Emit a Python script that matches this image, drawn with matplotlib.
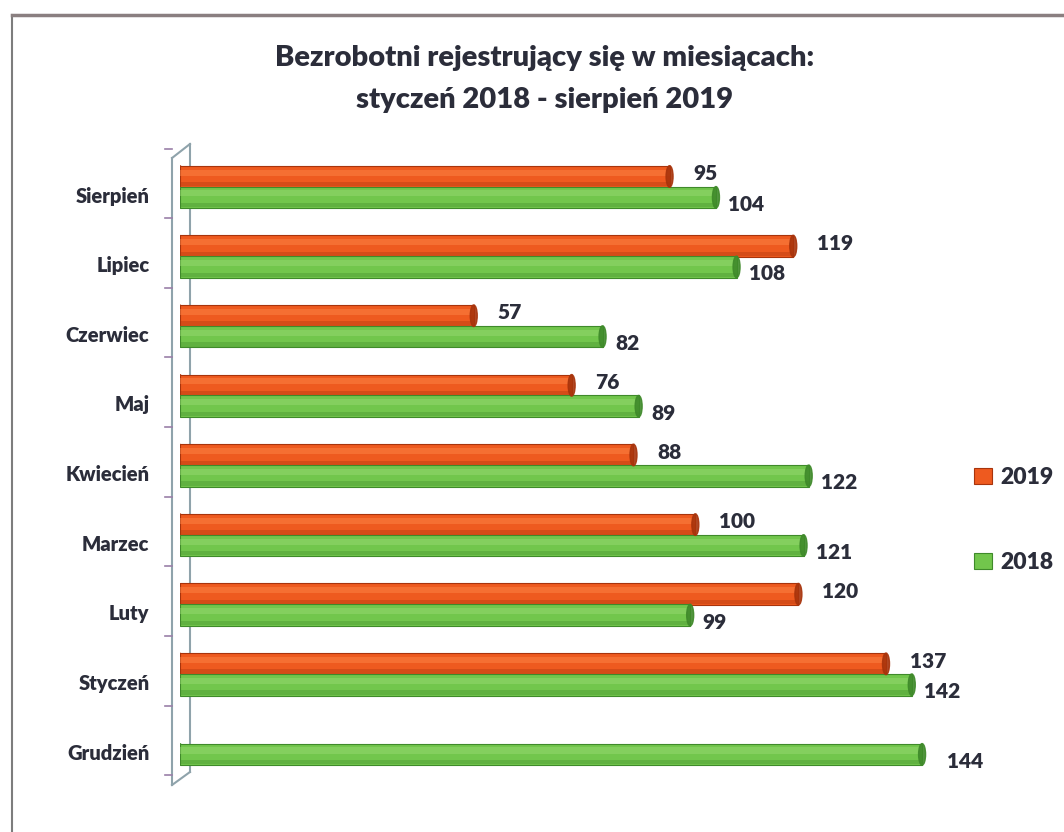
import matplotlib
matplotlib.use("Agg")
import numpy as np
from matplotlib import pyplot as plt
from matplotlib.patches import Ellipse
from matplotlib.lines import Line2D

plt.rcParams['font.family'] = ['Lato', 'DejaVu Sans']

months = ['Sierpień', 'Lipiec', 'Czerwiec', 'Maj', 'Kwiecień',
          'Marzec', 'Luty', 'Styczeń', 'Grudzień']
vals_2019 = [95, 119, 57, 76, 88, 100, 120, 137, None]
vals_2018 = [104, 108, 82, 89, 122, 121, 99, 142, 144]

ORANGE = '#EE5A1F'
ORANGE_DARK = '#A8340C'
ORANGE_LIGHT = '#FF8A4A'
GREEN = '#72C64C'
GREEN_DARK = '#3F8A2A'
GREEN_LIGHT = '#9BDB74'
TXT = '#2b2d3a'
W = 'heavy'

fig = plt.figure(figsize=(10.64, 8.32), dpi=100)
ax = fig.add_axes([180 / 1064, 1 - 785 / 832, 773 / 1064, 635 / 832])

y = np.arange(len(months))
h = 0.31
off = 0.15
px_per_unit = 773 / 150
cap_w = 7 / px_per_unit


def cylinder(ax, yc, v, col, dark, light):
    b = ax.barh(yc, v, height=h, color=col, edgecolor=dark, linewidth=0.8, zorder=3)
    ax.barh(yc - h * 0.18, v, height=h * 0.28, color=light, alpha=0.45,
            linewidth=0, zorder=4)
    ax.barh(yc + h * 0.36, v, height=h * 0.2, color=dark, alpha=0.35,
            linewidth=0, zorder=4)
    ax.add_patch(Ellipse((v, yc), cap_w, h, facecolor=dark, edgecolor=dark,
                         alpha=0.9, zorder=5))
    ax.add_patch(Ellipse((0, yc), cap_w, h, facecolor=col, edgecolor=dark,
                         linewidth=0.6, zorder=2))
    return b


h19 = h18 = None
for i, (a, b) in enumerate(zip(vals_2019, vals_2018)):
    if a is not None:
        h19 = cylinder(ax, y[i] - off, a, ORANGE, ORANGE_DARK, ORANGE_LIGHT)
        ax.annotate(str(a), (a, y[i] - off), xytext=(17, 2), textcoords='offset points',
                    ha='left', va='center', fontsize=15, fontweight=W, color=TXT)
    h18 = cylinder(ax, y[i] + off, b, GREEN, GREEN_DARK, GREEN_LIGHT)
    ax.annotate(str(b), (b, y[i] + off), xytext=(9 if a is not None else 18, -5),
                textcoords='offset points', ha='left', va='center',
                fontsize=15, fontweight=W, color=TXT)

ax.set_xlim(0, 150)
ax.set_ylim(8.59, -0.53)
ax.set_yticks(y + 0.11)
ax.set_yticklabels(months, fontsize=14.5, fontweight=W, color=TXT)
ax.tick_params(axis='y', length=0, pad=22)
ax.set_xticks([])
for s in ax.spines.values():
    s.set_visible(False)

# 3D axis wall
wall = '#8fa3ab'
xf, xb = -0.0103, 0.0129
yt_f, yt_b = 1 - (158 - 150) / 635, 1 - (144 - 150) / 635
yb_f, yb_b = 0.0, (785 - 772) / 635
ax.plot([xf, xf], [yb_f, yt_f], color=wall, lw=1.5, transform=ax.transAxes, clip_on=False, zorder=1)
ax.plot([xb, xb], [yb_b, yt_b], color=wall, lw=1.5, transform=ax.transAxes, clip_on=False, zorder=1)
ax.plot([xf, xb], [yt_f, yt_b], color=wall, lw=1.5, transform=ax.transAxes, clip_on=False, zorder=1)
ax.plot([xf, xb], [yb_f, yb_b], color=wall, lw=1.5, transform=ax.transAxes, clip_on=False, zorder=1)
for k in range(len(months) + 1):
    yy = -0.5 + k - 0.05
    ax.plot([-0.02, xf], [yy, yy], color='#9a7fa8', lw=1.2,
            transform=ax.get_yaxis_transform(), clip_on=False, zorder=1)

fig.text(0.512, 1 - 58 / 832, 'Bezrobotni rejestrujący się w miesiącach:',
         ha='center', va='center', fontsize=21, fontweight=W, color=TXT)
fig.text(0.512, 1 - 100 / 832, 'styczeń 2018 - sierpień 2019',
         ha='center', va='center', fontsize=21, fontweight=W, color=TXT)

leg = fig.legend([h19, h18], ['2019', '2018'], loc='center left',
                 bbox_to_anchor=(0.905, 1 - 520 / 832), frameon=False,
                 handlelength=0.75, handleheight=0.75, handletextpad=0.4,
                 labelspacing=2.8, borderpad=0, prop={'size': 16.5, 'weight': W})
for t in leg.get_texts():
    t.set_color(TXT)

# outer frame
fig.add_artist(Line2D([12 / 1064, 12 / 1064], [0, 1 - 15 / 832], color='#7d7d7d', lw=1.5))
fig.add_artist(Line2D([12 / 1064, 1], [1 - 15 / 832, 1 - 15 / 832], color='#8a7f80', lw=2.5))

fig.savefig('out.png', dpi=100)
